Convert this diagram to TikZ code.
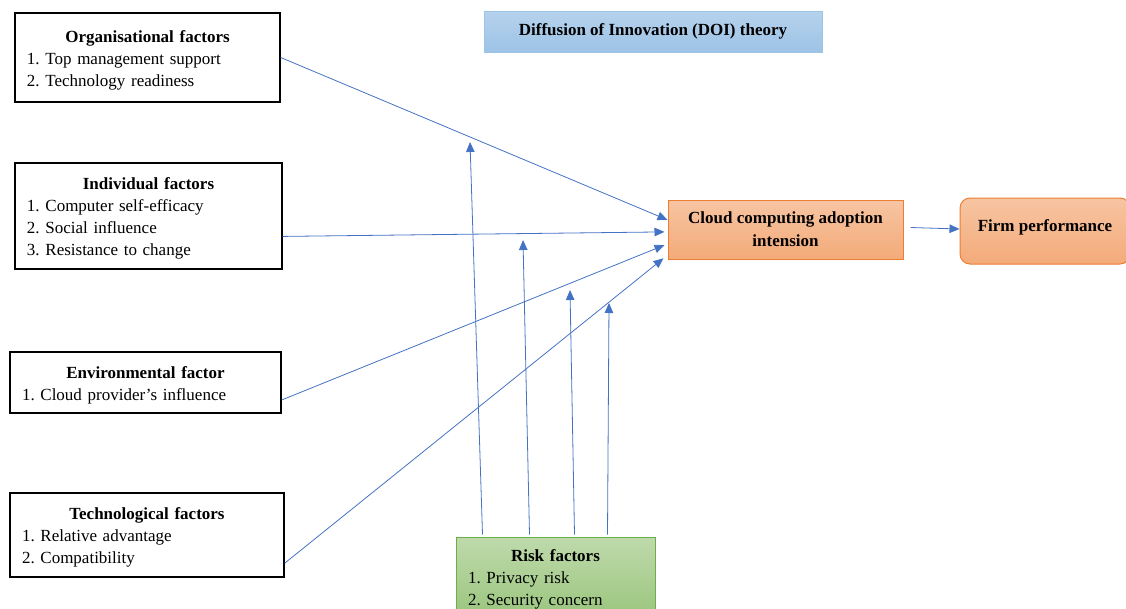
\documentclass[tikz,border=0pt]{standalone}
\usepackage{fontspec}
\setmainfont{Liberation Serif}
\usepackage{xcolor}
\usetikzlibrary{arrows.meta,calc}
\definecolor{arrowblue}{HTML}{4472C4}
\definecolor{doiedge}{HTML}{9DC3E6}
\definecolor{cloudedge}{HTML}{ED7D31}
\definecolor{riskedge}{HTML}{70AD47}
\newcommand{\factorlist}[2]{\makebox[\linewidth][c]{\rule{0pt}{17.5pt}\bfseries #1}\\ #2}
\frenchspacing

\begin{document}
\begin{tikzpicture}[x=1pt, y=-1pt,
every node/.style = {font=\fontsize{17}{22}\selectfont},
every edge/.style = {draw, -{Triangle[length=10pt, width=8.5pt]}, line width=0.8pt, arrowblue},
       box/.style = {draw, line width=1.4pt, inner xsep=12pt, inner ysep=0pt,
                     align=left, text width=#1, minimum width=#1+24pt},
     theory/.style = {draw=doiedge, line width=1pt, top color=doiedge!75, bottom color=doiedge,
                     minimum width=338pt, minimum height=41pt, font=\fontsize{17}{22}\selectfont\bfseries},
    target/.style = {draw=cloudedge, line width=1pt, top color=cloudedge!45, bottom color=cloudedge!65,
                     minimum width=235pt, minimum height=59pt, align=center,
                     font=\fontsize{17}{23}\selectfont\bfseries},
      risk/.style = {draw=riskedge, line width=1pt, top color=riskedge!45, bottom color=riskedge!70,
                     inner xsep=12pt, inner ysep=0pt, align=left, text width=175pt,
                     minimum width=199pt, minimum height=79pt}
                    ]
\useasboundingbox (0,0) rectangle (1126,608);
\clip (0,0) rectangle (1126,608);

% factor boxes
\node[box=241pt, minimum height=89pt]  (org)  at (147.5,57.5)
     {\factorlist{Organisational factors}{1. Top management support\\ 2. Technology readiness}};
\node[box=243pt, minimum height=106pt] (ind)  at (148.5,216)
     {\factorlist{Individual factors}{1. Computer self-efficacy\\ 2. Social influence\\ 3. Resistance to change}};
\node[box=247pt, minimum height=61pt]  (env)  at (145.5,382.5)
     {\factorlist{Environmental factor}{1. Cloud provider’s influence}};
\node[box=250pt, minimum height=84pt]  (tech) at (147,535)
     {\factorlist{Technological factors}{1. Relative advantage\\ 2. Compatibility}};

\node[theory] (doi) at (653,31.5) {Diffusion of Innovation (DOI) theory};
\node[target] (cloud) at (785.5,229.5) {Cloud computing adoption\\ intension};
\node[target, rounded corners=10pt, minimum width=170pt, minimum height=66pt,
      text depth=10pt] (firm) at (1045,231) {Firm performance};
\node[risk] (riskf) at (555.5,576.5)
     {\factorlist{Risk factors}{1. Privacy risk\\ 2. Security concern}};

% free ends of the moderating arrows
\coordinate (m1) at (470,142);
\coordinate (m2) at (523,240);
\coordinate (m3) at (570,290);
\coordinate (m4) at (609,303);

\draw   ($(org.north east)!0.5!(org.south east)$)    edge ($(cloud.north west)!0.34!(cloud.south west)+(0,0)$)
        ($(ind.north east)!0.69!(ind.south east)$)   edge ($(cloud.north west)!0.54!(cloud.south west)+(-3,0)$)
        ($(env.north east)!0.78!(env.south east)$)   edge ($(cloud.north west)!0.76!(cloud.south west)+(-3,0)$)
        ($(tech.north east)!0.83!(tech.south east)$) edge ($(cloud.north west)!0.98!(cloud.south west)+(-4,0)$)
        ($(cloud.east)+(7,-2)$) edge ($(firm.west)+(0,-2)$);
\draw   ($(riskf.north west)+(27,-2)$)  edge (m1)
        ($(riskf.north west)+(74,-2)$)  edge (m2)
        ($(riskf.north west)+(119,-2)$) edge (m3)
        ($(riskf.north west)+(152,-2)$) edge (m4);
\end{tikzpicture}
\end{document}
